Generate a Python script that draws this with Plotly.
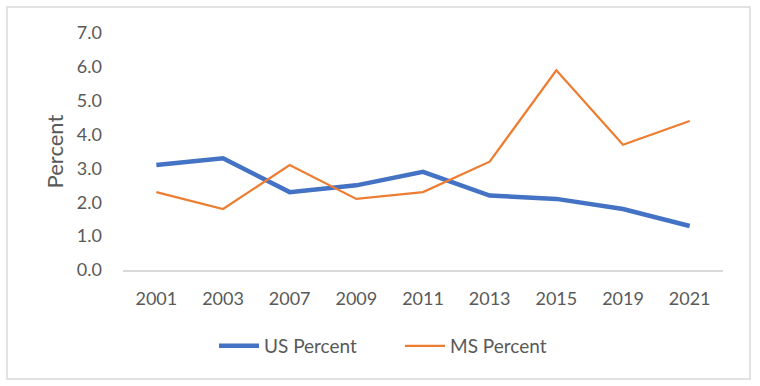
import plotly.graph_objects as go

years = ["2001", "2003", "2007", "2009", "2011", "2013", "2015", "2019", "2021"]
us_percent = [3.1, 3.3, 2.3, 2.5, 2.9, 2.2, 2.1, 1.8, 1.3]
ms_percent = [2.3, 1.8, 3.1, 2.1, 2.3, 3.2, 5.9, 3.7, 4.4]
y_ticks = [0, 1, 2, 3, 4, 5, 6, 7]

FONT = "Lato, Noto Sans, sans-serif"
GREY = "#595959"

fig = go.Figure()
fig.add_trace(go.Scatter(x=years, y=us_percent, mode="lines", name="US Percent",
                         line=dict(color="#4472C4", width=4.5)))
fig.add_trace(go.Scatter(x=years, y=ms_percent, mode="lines", name="MS Percent",
                         line=dict(color="#ED7D31", width=2.25)))

W, H = 760, 386
L, R, T, B = 123, 37, 33, 116
pw, ph = W - L - R, H - T - B

def px(x):
    return (x - L) / pw

def py(y):
    return (H - B - y) / ph

fig.add_shape(type="rect", xref="paper", yref="paper",
              x0=px(7), x1=px(750), y0=py(379), y1=py(7),
              line=dict(color="#D9D9D9", width=1.5), fillcolor="rgba(0,0,0,0)", layer="below")

fig.update_layout(
    width=W, height=H,
    margin=dict(l=L, r=R, t=T, b=B),
    paper_bgcolor="white", plot_bgcolor="white",
    font=dict(family=FONT, color=GREY, size=18),
    showlegend=True,
    legend=dict(orientation="h", x=px(214), xanchor="left", y=py(346), yanchor="middle",
                font=dict(size=19, color=GREY), itemwidth=40, entrywidth=131,
                tracegroupgap=0),
    xaxis=dict(type="category", range=[-0.5, 8.5], showgrid=False, zeroline=False,
               showline=True, linecolor="#D9D9D9", linewidth=1.5,
               ticks="", ticklabelstandoff=12, tickfont=dict(size=18, color=GREY)),
    yaxis=dict(range=[0, 7], tickvals=y_ticks, tickformat=".1f", showgrid=False,
               zeroline=False, showline=False, ticks="", ticklabelstandoff=20,
               tickfont=dict(size=18, color=GREY),
               title=dict(text="Percent", font=dict(size=22, color=GREY), standoff=7)),
)

fig.write_html("out.html", config={"displayModeBar": False},
               post_script="document.body.style.margin='0';")
